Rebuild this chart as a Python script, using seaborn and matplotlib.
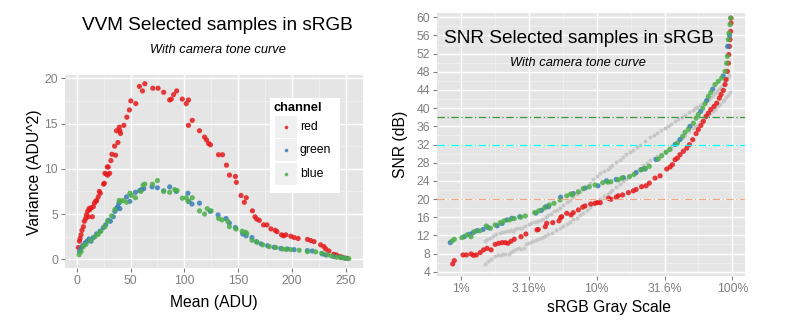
import matplotlib
matplotlib.use("Agg")
import matplotlib.pyplot as plt
import pandas as pd
import seaborn as sns
from matplotlib.patches import Rectangle
from matplotlib.ticker import FixedLocator, NullFormatter

# ---------------- data: variance vs mean (ADU) ----------------
mean_red = [1.5, 2.5, 3.1, 4.0, 4.9, 6.2, 7.1, 8.3, 9.0, 10.2,
            10.8, 11.4, 12.3, 13.3, 14.5, 15.4, 16.4, 17.6, 18.5, 20.0,
            21.0, 21.9, 25.0, 25.6, 26.2, 27.8, 28.4, 28.7, 29.3, 30.6,
            31.8, 32.7, 35.2, 36.1, 37.0, 38.3, 39.5, 40.1, 40.7, 43.8,
            46.6, 49.0, 50.3, 54.9, 58.3, 61.1, 63.3, 70.7, 75.6, 80.8,
            86.4, 87.9, 90.1, 92.9, 98.1, 101.8, 103.9, 103.9, 107.4, 114.1,
            118.8, 120.6, 122.5, 124.3, 131.8, 135.5, 139.2, 142.0, 147.5, 148.4,
            152.7, 155.8, 157.6, 163.3, 165.7, 167.3, 169.7, 173.7, 176.8, 180.5,
            184.5, 186.1, 190.4, 192.3, 194.4, 199.0, 202.1, 205.8, 214.5, 217.5,
            220.6, 226.7, 229.8, 231.4, 234.4, 239.0, 241.5, 245.2, 247.7, 251.4]
var_red = [1.3, 2.0, 2.3, 2.7, 3.2, 3.6, 4.2, 4.5, 4.9, 5.3,
           4.7, 5.6, 5.5, 5.7, 4.7, 5.8, 6.2, 6.4, 6.5, 6.9,
           7.5, 7.3, 8.3, 8.4, 9.5, 9.4, 10.2, 9.3, 10.2, 9.5,
           10.9, 11.6, 12.5, 11.5, 14.2, 12.9, 14.6, 14.2, 13.9, 14.8,
           15.7, 16.5, 17.5, 17.2, 19.1, 18.6, 19.4, 18.9, 18.9, 18.45,
           17.6, 17.7, 18.2, 18.6, 17.7, 17.2, 17.6, 14.8, 15.35, 14.2,
           13.5, 13.2, 12.8, 12.65, 11.55, 11.55, 10.4, 9.3, 9.15, 8.5,
           7.05, 6.3, 6.8, 5.35, 4.7, 4.45, 4.3, 3.8, 3.8, 3.36,
           3.2, 3.06, 2.7, 2.6, 2.7, 2.55, 2.4, 2.3, 2.2, 2.07,
           1.95, 1.6, 1.4, 1.15, 0.92, 0.55, 0.48, 0.3, 0.18, 0.11]

mean_green = [2.5, 4.0, 5.5, 7.7, 9.6, 11.4, 13.3, 15.4, 18.5, 21.6,
              24.7, 26.9, 29.3, 31.2, 34.0, 35.5, 37.0, 38.0, 39.2, 40.1,
              46.3, 49.4, 54.6, 58.6, 60.2, 62.3, 70.0, 75.0, 80.8, 86.4,
              92.6, 103.4, 104.3, 107.1, 114.1, 124.0, 131.4, 138.8, 141.9, 147.5,
              154.3, 157.4, 162.9, 167.0, 171.3, 177.4, 183.6, 189.7, 195.9, 202.0,
              214.4, 219.0, 228.3, 231.4, 239.0, 245.2, 249.9]
var_green = [0.85, 1.2, 1.5, 1.8, 2.0, 2.25, 2.0, 2.4, 2.8, 3.1,
             3.5, 3.8, 4.3, 4.2, 4.7, 5.3, 5.6, 5.8, 6.2, 5.6,
             6.9, 6.4, 7.4, 7.6, 7.7, 7.8, 8.0, 7.9, 7.56, 8.0,
             7.5, 7.3, 6.4, 6.1, 6.2, 5.3, 4.9, 4.5, 4.0, 3.5,
             2.8, 2.6, 2.4, 1.95, 1.7, 1.5, 1.33, 1.2, 1.14, 1.07,
             0.96, 0.92, 0.6, 0.48, 0.3, 0.22, 0.11]

mean_blue = [2.2, 4.0, 6.2, 8.6, 12.7, 17.0, 20.0, 22.5, 26.2, 28.7,
             32.4, 35.5, 39.5, 41.0, 43.5, 46.3, 49.4, 50.9, 54.6, 59.6,
             61.7, 63.3, 70.4, 75.0, 80.8, 86.4, 91.0, 93.2, 98.1, 101.8,
             103.4, 107.4, 114.1, 118.8, 121.3, 125.0, 132.0, 135.1, 140.4, 141.9,
             148.1, 153.7, 156.8, 158.0, 162.9, 167.6, 172.8, 179.0, 185.1, 191.3,
             194.4, 199.0, 206.8, 214.5, 222.2, 227.7, 233.0, 236.7, 241.5, 245.2,
             248.9, 252.9]
var_blue = [0.5, 0.85, 1.4, 1.65, 2.1, 2.5, 2.75, 3.1, 3.6, 4.2,
            4.8, 5.5, 6.5, 6.4, 6.5, 6.3, 7.3, 7.05, 6.8, 7.5,
            8.2, 8.3, 8.3, 8.7, 7.5, 7.4, 7.7, 7.6, 6.75, 6.8,
            6.4, 6.8, 5.35, 5.0, 5.6, 5.35, 4.5, 4.35, 4.2, 3.6,
            3.35, 3.1, 3.0, 2.85, 2.1, 1.88, 1.6, 1.4, 1.3, 1.14,
            1.1, 1.07, 1.0, 0.85, 0.82, 0.66, 0.5, 0.37, 0.22, 0.18,
            0.15, 0.07]

# ---------------- data: SNR (dB) vs sRGB gray scale (%) ----------------
gray_red = [0.864, 0.888, 1.03, 1.09, 1.18, 1.23, 1.29, 1.38, 1.46, 1.55,
            1.66, 1.78, 1.89, 2.0, 2.11, 2.21, 2.33, 2.46, 2.76, 3.0,
            3.62, 3.7, 4.17, 4.27, 4.73, 5.26, 5.41, 5.5, 6.0, 6.46,
            6.71, 7.31, 7.87, 8.18, 9.02, 9.7, 10.1, 10.6, 12.2, 12.7,
            13.9, 14.4, 15.5, 17.1, 18.6, 19.5, 21.4, 23.1, 24.4, 26.9,
            29.3, 32.8, 34.7, 36.1, 37.8, 39.3, 41.1, 43.5, 46.1, 48.2,
            51.0, 54.0, 56.1, 58.7, 61.1, 64.0, 66.5, 69.3, 73.3, 76.7,
            80.2, 82.5, 85.8, 88.4, 89.9, 91.9, 93.5, 94.1, 95.1, 96.2,
            97.3, 97.8, 97.8]
snr_red = [5.7, 6.43, 7.68, 7.68, 7.9, 7.6, 7.68, 8.2, 8.8, 9.15,
           8.8, 10.0, 10.25, 10.4, 10.4, 10.25, 10.7, 11.14, 11.7, 12.3,
           13.2, 13.3, 13.9, 14.65, 14.8, 15.2, 15.9, 16.1, 16.86, 16.5,
           17.0, 17.6, 18.2, 18.47, 18.9, 19.06, 19.2, 19.2, 20.16, 19.94,
           20.4, 20.7, 20.9, 21.4, 21.8, 22.1, 22.7, 22.9, 23.5, 24.6,
           25.1, 26.6, 27.05, 27.56, 28.66, 29.0, 29.76, 30.5, 31.2, 31.96,
           33.06, 34.4, 35.3, 36.2, 37.1, 38.2, 38.9, 39.7, 40.4, 41.1,
           42.2, 43.0, 43.9, 45.2, 46.3, 48.1, 49.9, 51.8, 53.6, 55.1,
           56.9, 58.7, 59.8]

gray_green = [0.83, 1.05, 1.15, 1.22, 1.31, 1.45, 1.58, 1.84, 2.0, 2.17,
              2.37, 2.7, 3.55, 3.9, 4.2, 4.4, 5.41, 6.7, 8.2, 10.2,
              11.8, 13.9, 15.7, 19.5, 21.4, 22.7, 27.4, 37.8, 41.1, 48.7,
              58.4, 64.7, 71.7, 85.6, 92.3, 95.5]
snr_green = [10.4, 11.7, 12.24, 12.6, 13.03, 13.3, 13.7, 14.1, 14.6, 15.4,
             15.76, 16.1, 16.9, 17.5, 18.3, 18.3, 20.4, 21.2, 22.4, 22.9,
             24.0, 24.3, 24.7, 25.8, 26.5, 26.6, 28.7, 32.0, 33.1, 36.0,
             39.3, 41.7, 44.2, 47.1, 53.6, 56.0]

gray_blue = [0.854, 0.888, 1.01, 1.10, 1.18, 1.25, 1.37, 1.53, 1.64, 1.78,
             1.94, 2.06, 2.27, 2.46, 2.75, 2.97, 3.48, 3.73, 4.1, 4.46,
             4.83, 5.35, 6.0, 6.42, 6.6, 7.3, 7.94, 8.8, 9.7, 11.06,
             12.1, 12.7, 14.4, 15.3, 17.4, 18.8, 21.2, 22.7, 24.4, 28.4,
             30.1, 32.4, 34.7, 39.3, 43.0, 44.8, 47.4, 51.6, 54.0, 56.1,
             60.5, 62.9, 66.6, 69.3, 74.5, 78.8, 83.5, 88.4, 90.8, 91.9,
             93.4, 94.4, 96.2, 97.2]
snr_blue = [10.76, 11.14, 11.5, 12.1, 11.7, 12.8, 13.0, 14.06, 13.56, 14.3,
            14.8, 15.17, 15.4, 15.7, 16.0, 16.27, 17.0, 17.4, 18.0, 18.7,
            19.06, 19.8, 20.7, 21.1, 20.9, 21.6, 22.3, 22.7, 23.1, 23.6,
            23.7, 23.8, 24.2, 24.6, 24.9, 25.4, 26.4, 26.8, 27.2, 28.8,
            29.5, 30.3, 30.9, 32.3, 33.8, 34.7, 35.4, 36.7, 37.8, 38.6,
            40.0, 41.0, 42.6, 43.5, 45.2, 45.9, 46.6, 48.1, 49.9, 51.4,
            55.1, 56.5, 58.4, 59.85]

# comparison curves drawn in light grey
gray_ref_a = [1.50, 1.55, 1.62, 1.70, 1.81, 1.92, 2.00, 2.08, 2.17, 2.25,
              2.33, 2.40, 2.50, 2.58, 2.70, 2.80, 2.95, 3.14, 3.28, 3.42,
              3.55, 3.70, 3.85, 4.01, 4.20, 4.40, 4.60, 4.85, 5.10, 5.35,
              5.65, 6.00, 6.30, 6.70, 7.10, 7.50, 7.90, 8.40, 8.90, 9.40,
              10.0, 10.6, 11.3, 12.0, 12.5, 13.0, 13.9, 14.8, 15.6, 16.5,
              17.5, 18.6, 19.7, 20.8, 22.5, 24.6, 26.3, 28.0, 29.8, 31.6,
              33.5, 35.5, 37.7, 40.0, 42.5, 45.0, 48.0, 51.0, 53.0, 55.0,
              57.5, 60.0, 62.5, 65.0, 67.5, 70.0, 72.5, 75.0, 77.5, 80.0,
              82.5, 85.0, 87.5, 90.0, 92.5, 95.0]
snr_ref_a = [10.8, 11.2, 11.5, 11.8, 12.2, 12.6, 12.7, 12.8, 12.9, 13.0,
             13.2, 12.9, 13.3, 13.6, 13.6, 13.7, 14.1, 14.5, 14.8, 15.0,
             15.0, 15.1, 15.4, 15.6, 16.1, 16.4, 16.8, 17.3, 17.6, 18.0,
             18.7, 19.3, 19.8, 20.5, 21.0, 21.6, 22.2, 22.7, 23.5, 24.3,
             25.0, 25.7, 26.1, 26.6, 27.1, 27.5, 28.1, 28.6, 29.3, 29.8,
             30.3, 30.8, 31.5, 32.0, 32.8, 33.6, 34.1, 34.6, 35.1, 35.6,
             36.1, 36.6, 37.1, 37.6, 38.1, 38.6, 39.1, 39.6, 40.0, 40.3,
             40.7, 41.0, 41.4, 41.8, 42.1, 42.5, 42.9, 43.3, 43.7, 44.2,
             44.7, 45.2, 45.7, 46.2, 46.8, 47.3]
gray_ref_b = [1.50, 1.57, 1.65, 1.78, 1.86, 1.95, 2.03, 2.11, 2.24, 2.32,
              2.40, 2.52, 2.65, 2.78, 2.90, 3.02, 3.13, 3.25, 3.40, 3.55,
              3.70, 3.85, 4.00, 4.17, 4.40, 4.65, 5.00, 5.35, 5.65, 6.00,
              6.30, 6.70, 7.10, 7.50, 7.90, 8.40, 8.90, 9.40, 10.0, 10.6,
              11.3, 12.0, 12.5, 13.0, 13.9, 14.8, 15.6, 16.5, 17.7, 19.0,
              20.5, 22.0, 23.3, 24.6, 26.3, 28.0, 29.8, 31.6, 33.5, 35.5,
              37.7, 40.0, 42.5, 45.0, 48.0, 51.0, 53.0, 55.0, 57.5, 60.0,
              63.0, 66.0, 69.0, 72.0, 75.0, 78.0, 81.5, 85.0, 87.5, 90.0,
              93.0, 96.0]
snr_ref_b = [5.7, 6.4, 6.9, 7.5, 7.6, 7.7, 7.9, 8.0, 8.0, 8.3,
             8.6, 8.9, 9.15, 9.1, 9.2, 10.1, 10.3, 10.5, 10.8, 11.0,
             11.3, 11.5, 11.7, 11.9, 12.3, 12.6, 13.1, 13.6, 14.0, 14.5,
             15.0, 15.5, 15.9, 16.4, 17.0, 17.5, 18.2, 18.8, 19.4, 20.0,
             20.6, 21.1, 21.6, 22.0, 22.6, 23.3, 23.9, 24.5, 25.2, 25.9,
             26.7, 27.5, 28.0, 28.5, 29.0, 29.5, 30.0, 30.4, 31.0, 31.6,
             32.2, 32.8, 33.5, 34.2, 34.9, 35.6, 36.0, 36.4, 36.9, 37.3,
             37.9, 38.4, 38.9, 39.4, 39.9, 40.4, 40.9, 41.5, 41.9, 42.4,
             43.0, 43.6]

channels = ["red", "green", "blue"]
palette = {"red": "#E41A1C", "green": "#377EB8", "blue": "#4DAF4A"}
snr_levels = [(38, "#3A9A3A"), (32, "#00FFFF"), (20, "#F4A582")]

vvm = pd.concat([
    pd.DataFrame({"mean": mean_red, "var": var_red, "channel": "red"}),
    pd.DataFrame({"mean": mean_green, "var": var_green, "channel": "green"}),
    pd.DataFrame({"mean": mean_blue, "var": var_blue, "channel": "blue"}),
], ignore_index=True)
snr = pd.concat([
    pd.DataFrame({"gray": gray_red, "snr": snr_red, "channel": "red"}),
    pd.DataFrame({"gray": gray_green, "snr": snr_green, "channel": "green"}),
    pd.DataFrame({"gray": gray_blue, "snr": snr_blue, "channel": "blue"}),
], ignore_index=True)
ref = pd.concat([
    pd.DataFrame({"gray": gray_ref_a, "snr": snr_ref_a}),
    pd.DataFrame({"gray": gray_ref_b, "snr": snr_ref_b}),
], ignore_index=True)

# ---------------- styling ----------------
sns.set_theme(style="darkgrid")
plt.rcParams["font.family"] = ["Liberation Sans", "DejaVu Sans"]
TICK = "#7F7F7F"
PANEL = "#E5E5E5"


def ggplot_axes(ax):
    ax.set_facecolor(PANEL)
    for s in ax.spines.values():
        s.set_visible(False)
    ax.grid(True, which="major", color="white", linewidth=1.0)
    ax.grid(True, which="minor", color="#F2F2F2", linewidth=0.5)
    ax.set_axisbelow(True)
    ax.tick_params(axis="both", which="major", length=3, width=0.8, color=TICK,
                   labelcolor=TICK, labelsize=8.8, pad=2, bottom=True, left=True)
    ax.tick_params(axis="both", which="minor", length=0, bottom=False, left=False)
    ax.set_xlabel("")
    ax.set_ylabel("")


fig = plt.figure(figsize=(7.86, 3.26), dpi=100)
W, H = 786.0, 326.0
ax1 = fig.add_axes([65 / W, 1 - 268 / H, 298 / W, 193 / H])
ax2 = fig.add_axes([437 / W, 1 - 276 / H, 308 / W, 263 / H])

# ---------------- left panel: VVM ----------------
sns.scatterplot(data=vvm, x="mean", y="var", hue="channel", hue_order=channels,
                palette=palette, s=14, linewidth=0, alpha=0.85, legend=False, ax=ax1)
ax1.set_xlim(-10.9, 266.1)
ax1.set_ylim(-0.96, 20.36)
ax1.xaxis.set_major_locator(FixedLocator([0, 50, 100, 150, 200, 250]))
ax1.xaxis.set_minor_locator(FixedLocator([25, 75, 125, 175, 225]))
ax1.yaxis.set_major_locator(FixedLocator([0, 5, 10, 15, 20]))
ax1.yaxis.set_minor_locator(FixedLocator([2.5, 7.5, 12.5, 17.5]))
ggplot_axes(ax1)

fig.text(217 / W, 1 - 30 / H, "VVM Selected samples in sRGB", ha="center",
         va="baseline", fontsize=13.7, color="black")
fig.text(218 / W, 1 - 53.3 / H, "With camera tone curve", ha="center",
         va="baseline", fontsize=9.3, style="italic", color="black")
fig.text(214 / W, 1 - 307.3 / H, "Mean (ADU)", ha="center", va="baseline",
         fontsize=11.3, color="black")
fig.text(34 / W, 1 - 172 / H, "Variance (ADU^2)", ha="center", va="center",
         rotation=90, fontsize=11.3, color="black")

# legend box
leg_x0, leg_y0, leg_x1, leg_y1 = 269.7, 97.7, 339.7, 192.7
fig.patches.append(Rectangle((leg_x0 / W, 1 - leg_y1 / H), (leg_x1 - leg_x0) / W,
                             (leg_y1 - leg_y0) / H, transform=fig.transFigure,
                             facecolor="white", edgecolor="none", zorder=5))
fig.text(274 / W, 1 - 107.7 / H, "channel", ha="left", va="center",
         fontsize=9.3, fontweight="bold", color="black", zorder=6)
for i, ch in enumerate(channels):
    top = 116 + i * 23.3
    fig.patches.append(Rectangle((275.3 / W, 1 - (top + 22) / H), 22 / W, 22 / H,
                                 transform=fig.transFigure, facecolor="#F0F0F0",
                                 edgecolor="none", zorder=6))
    fig.lines.append(plt.Line2D([286 / W], [1 - (top + 11) / H], marker="o",
                                markersize=2.6, color=palette[ch], alpha=0.85,
                                markeredgewidth=0, linestyle="none",
                                transform=fig.transFigure, zorder=7))
    fig.text(299.7 / W, 1 - (top + 11) / H, ch, ha="left", va="center",
             fontsize=8.8, color="black", zorder=7)

# ---------------- right panel: SNR ----------------
ax2.set_xscale("log")
sns.scatterplot(data=ref, x="gray", y="snr", color="#C6C6C6", s=8, linewidth=0,
                alpha=1.0, legend=False, ax=ax2)
sns.scatterplot(data=snr, x="gray", y="snr", hue="channel", hue_order=channels,
                palette=palette, s=14, linewidth=0, alpha=0.85, legend=False, ax=ax2)
for level, col in snr_levels:
    ax2.axhline(level, color=col, linewidth=0.9, linestyle=(0, (6, 2, 1, 2)), zorder=3)
ax2.set_xlim(0.662, 124)
ax2.set_ylim(3.05, 60.95)
ax2.xaxis.set_major_locator(FixedLocator([1, 3.1623, 10, 31.623, 100]))
ax2.xaxis.set_minor_locator(FixedLocator([10 ** 0.25, 10 ** 0.75, 10 ** 1.25, 10 ** 1.75]))
ax2.xaxis.set_minor_formatter(NullFormatter())
ax2.set_xticklabels(["1%", "3.16%", "10%", "31.6%", "100%"])
ax2.yaxis.set_major_locator(FixedLocator(list(range(4, 61, 4))))
ax2.yaxis.set_minor_locator(FixedLocator(list(range(6, 60, 4))))
ggplot_axes(ax2)

fig.text(578.5 / W, 1 - 42.7 / H, "SNR Selected samples in sRGB", ha="center",
         va="baseline", fontsize=13.7, color="black")
fig.text(578 / W, 1 - 66 / H, "With camera tone curve", ha="center",
         va="baseline", fontsize=9.3, style="italic", color="black")
fig.text(609 / W, 1 - 312 / H, "sRGB Gray Scale", ha="center", va="baseline",
         fontsize=11.3, color="black")
fig.text(400.5 / W, 1 - 144.5 / H, "SNR (dB)", ha="center", va="center",
         rotation=90, fontsize=11.3, color="black")

fig.savefig("out.png", dpi=100, facecolor="white")
